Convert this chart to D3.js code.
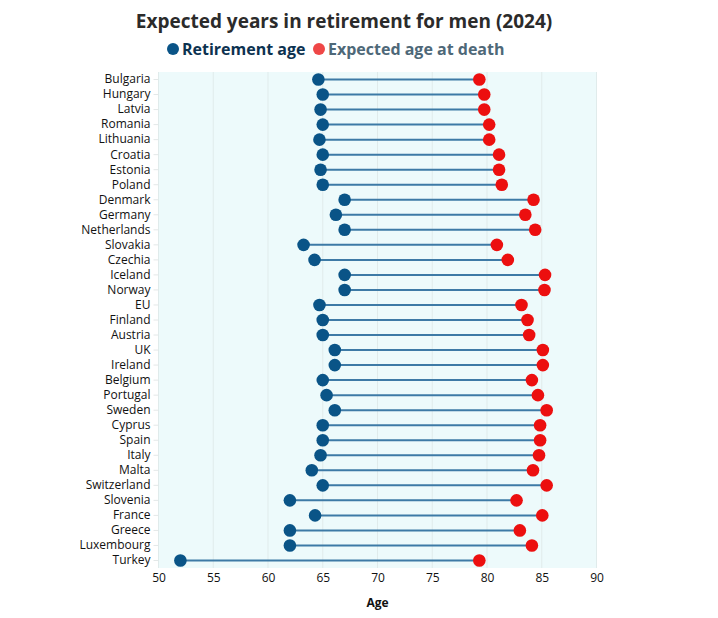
<!DOCTYPE html>
<html>
<head>
<meta charset="utf-8">
<script src="https://cdn.jsdelivr.net/npm/d3@7"></script>
<style>
  body { margin: 0; background: #fff; font-family: "Open Sans", sans-serif; }
  .axis path { display: none; }
  .axis text { font-family: "Open Sans", sans-serif; font-size: 12px; fill: #111; }
</style>
</head>
<body>
<svg id="chart" width="718" height="618"></svg>
<script>
// countries, top to bottom
var countries = ["Bulgaria","Hungary","Latvia","Romania","Lithuania","Croatia","Estonia","Poland",
  "Denmark","Germany","Netherlands","Slovakia","Czechia","Iceland","Norway","EU","Finland","Austria",
  "UK","Ireland","Belgium","Portugal","Sweden","Cyprus","Spain","Italy","Malta","Switzerland",
  "Slovenia","France","Greece","Luxembourg","Turkey"];

var retirementAge = [64.6,65,64.8,65,64.7,65,64.8,65,
  67,66.2,67,63.25,64.25,67,67,64.7,65,65,
  66.1,66.1,65,65.35,66.1,65,65,64.8,64,65,
  62,64.3,62,62,52];

var deathAge = [79.3,79.75,79.75,80.2,80.2,81.1,81.1,81.35,
  84.25,83.5,84.4,80.9,81.9,85.3,85.25,83.15,83.7,83.85,
  85.1,85.1,84.1,84.65,85.45,84.85,84.85,84.75,84.2,85.45,
  82.7,85.05,83.0,84.1,79.3];

var xTicks = [50,55,60,65,70,75,80,85,90];

var margin = {left: 158.5, right: 121.5, top: 72, bottom: 50};
var width = 718 - margin.left - margin.right;
var height = 618 - margin.top - margin.bottom - 0;
var plotH = 496;

var svg = d3.select("#chart");
var g = svg.append("g").attr("transform", "translate(" + margin.left + "," + margin.top + ")");

var x = d3.scaleLinear().domain([50, 90]).range([0, width]);
var y = d3.scaleBand().domain(countries).range([0, plotH]);

// background
g.append("rect")
  .attr("width", width)
  .attr("height", plotH)
  .attr("fill", "#edfafb");

// grid
g.selectAll(".grid")
  .data(xTicks)
  .join("line")
  .attr("class", "grid")
  .attr("x1", d => x(d)).attr("x2", d => x(d))
  .attr("y1", 0).attr("y2", plotH)
  .attr("stroke", "#e0ebeb")
  .attr("stroke-width", 1);

// x axis
g.append("g")
  .attr("class", "x-axis axis")
  .attr("transform", "translate(0," + plotH + ")")
  .call(d3.axisBottom(x).tickValues(xTicks).tickSize(0).tickPadding(5));

g.append("text")
  .text("Age")
  .attr("x", width / 2)
  .attr("y", plotH + 39)
  .attr("text-anchor", "middle")
  .style("font-family", "Open Sans, sans-serif")
  .style("font-size", "12px")
  .style("font-weight", "bold")
  .attr("fill", "#111");

// y axis
var yAxis = g.append("g")
  .attr("class", "y-axis axis")
  .call(d3.axisLeft(y).tickSize(5).tickPadding(3));
yAxis.selectAll("line").attr("stroke", "#e3e8e8");

// data rows
var rows = countries.map(function(c, i) {
  return {country: c, ret: retirementAge[i], death: deathAge[i]};
});

g.selectAll(".link")
  .data(rows)
  .join("line")
  .attr("class", "link")
  .attr("x1", d => x(d.ret))
  .attr("x2", d => x(d.death))
  .attr("y1", d => y(d.country) + y.bandwidth() / 2)
  .attr("y2", d => y(d.country) + y.bandwidth() / 2)
  .attr("stroke", "#3d7aa6")
  .attr("stroke-width", 2);

g.selectAll(".dot-ret")
  .data(rows)
  .join("circle")
  .attr("class", "dot-ret")
  .attr("cx", d => x(d.ret))
  .attr("cy", d => y(d.country) + y.bandwidth() / 2)
  .attr("r", 6.3)
  .attr("fill", "#0a5487");

g.selectAll(".dot-death")
  .data(rows)
  .join("circle")
  .attr("class", "dot-death")
  .attr("cx", d => x(d.death))
  .attr("cy", d => y(d.country) + y.bandwidth() / 2)
  .attr("r", 6.3)
  .attr("fill", "#ec0f0f");

// title
svg.append("text")
  .text("Expected years in retirement for men (2024)")
  .attr("x", 344)
  .attr("y", 28)
  .attr("text-anchor", "middle")
  .style("font-family", "Open Sans, sans-serif")
  .style("font-size", "19px")
  .style("font-weight", "bold")
  .attr("fill", "#2b2b2b");

// legend
var legendItems = [
  {label: "Retirement age", dot: "#0a5487", text: "#0c3250", x: 173},
  {label: "Expected age at death", dot: "#ef4747", text: "#4e6878", x: 319}
];
var leg = svg.selectAll(".legend")
  .data(legendItems)
  .join("g")
  .attr("class", "legend")
  .attr("transform", d => "translate(" + d.x + ",49)");
leg.append("circle")
  .attr("r", 6)
  .attr("cy", 0)
  .attr("fill", d => d.dot);
leg.append("text")
  .text(d => d.label)
  .attr("x", 9)
  .attr("y", 6)
  .style("font-family", "Open Sans, sans-serif")
  .style("font-size", "16px")
  .style("font-weight", "bold")
  .attr("fill", d => d.text);
</script>
</body>
</html>
